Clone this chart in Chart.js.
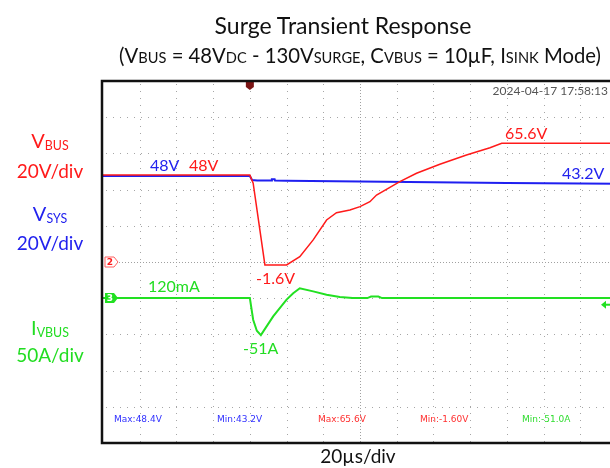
<!DOCTYPE html>
<html>
<head>
<meta charset="utf-8">
<script src="https://cdn.jsdelivr.net/npm/chart.js@4.4.1/dist/chart.umd.min.js"></script>
<style>
  html, body { margin: 0; padding: 0; width: 610px; height: 468px; overflow: hidden; background: #fff; }
  #scope { position: absolute; left: 0; top: 0; width: 640px; height: 468px; }
  .t { position: absolute; white-space: nowrap; font-family: Lato, "Open Sans", sans-serif; line-height: 1; }
  .c { width: 100px; text-align: center; left: 0; }
  .sc { font-size: 0.72em; }
  .sub { font-size: 0.62em; position: relative; top: 2px; }
  .meas { position: absolute; white-space: nowrap; font-family: "DejaVu Sans", sans-serif; font-size: 9px; line-height: 1; }
  .red { color: #ff1a1a; }
  .blue { color: #2222ee; }
  .green { color: #22dd22; }
</style>
</head>
<body>
<div id="scope"><canvas id="scope-chart"></canvas></div>

<div class="t" id="title" style="font-size:23px; top:14px; left:0; width:686px; text-align:center; color:#111;">Surge Transient Response</div>
<div class="t" id="subtitle" style="font-size:20.3px; top:45px; left:0; width:720px; text-align:center; color:#111;">(V<span class="sc">BUS</span> = 48V<span class="sc">DC</span> - 130V<span class="sc">SURGE</span>, C<span class="sc">VBUS</span> = 10µF, I<span class="sc">SINK</span> Mode)</div>

<div class="t c red" style="font-size:20px; top:130px;">V<span class="sub">BUS</span></div>
<div class="t c red" style="font-size:19px; top:161px;">20V/div</div>
<div class="t c blue" style="font-size:20px; top:203px;">V<span class="sub">SYS</span></div>
<div class="t c blue" style="font-size:19px; top:233px;">20V/div</div>
<div class="t c green" style="font-size:20px; top:317px;">I<span class="sub">VBUS</span></div>
<div class="t c green" style="font-size:19px; top:345px;">50A/div</div>

<div class="t blue" style="font-size:16px; left:150px; top:157px;">48V</div>
<div class="t red" style="font-size:16px; left:189px; top:157px;">48V</div>
<div class="t red" style="font-size:16px; left:505px; top:125px;">65.6V</div>
<div class="t blue" style="font-size:16px; left:562px; top:165px;">43.2V</div>
<div class="t red" style="font-size:16px; left:256px; top:270px;">-1.6V</div>
<div class="t green" style="font-size:16px; left:148px; top:278px;">120mA</div>
<div class="t green" style="font-size:16px; left:243px; top:340px;">-51A</div>

<div class="t" style="font-size:12px; right:2px; top:85px; color:#555;">2024-04-17 17:58:13</div>

<div class="meas" style="left:114px; top:415px; color:#3030ff;">Max:48.4V</div>
<div class="meas" style="left:217px; top:415px; color:#3030ff;">Min:43.2V</div>
<div class="meas" style="left:318px; top:415px; color:#ff3030;">Max:65.6V</div>
<div class="meas" style="left:420px; top:415px; color:#ff3030;">Min:-1.60V</div>
<div class="meas" style="left:522px; top:415px; color:#30dd30;">Min:-51.0A</div>

<div class="t" style="font-size:19px; left:258px; top:446px; width:200px; text-align:center; color:#111;">20µs/div</div>

<script>
// time base: 20 us/div, trigger at t = 0
const timeMin = -80;
const timeMax = 200;
const voltsPerDiv = 20;
const ampsPerDiv = 50;

// VBUS (ch2), volts
const vbusTime  = [-80, 0, 1.8, 8.2, 20, 27.2, 34.5, 41.8, 47.2, 54.5, 60, 65.4, 69, 81.7, 90.8, 103.5, 118, 130.8, 137.2, 200];
const vbusVolts = [48, 48, 43.5, -1.6, -1.6, 2.9, 12.2, 23.2, 27.2, 28.7, 30.6, 33.3, 37.0, 44.4, 49.0, 54.0, 59.1, 63.1, 65.6, 65.6];

// VSYS (ch1), volts
const vsysTime  = [-80, 0, 1.2, 4, 11.8, 12, 13.5, 13.7, 20, 60, 100, 140, 200];
const vsysVolts = [47.5, 47.5, 45.3, 45.0, 45.0, 45.7, 45.7, 45.0, 44.9, 44.5, 44.1, 43.6, 43.2];

// IVBUS (ch3), amps
const ivbusTime = [-80, 0, 1.8, 3.8, 6, 12.7, 20, 23.6, 27.2, 34.5, 41.8, 49, 56, 64, 66, 70, 72, 200];
const ivbusAmps = [0.12, 0.12, -29.7, -45, -51, -25.1, -2, 6.8, 13.8, 9.4, 4.8, 1.7, 0.12, 0.12, 2.2, 2.2, 0.12, 0.12];

const RED = '#ff1a1a';
const BLUE = '#1f1ff0';
const GREEN = '#22e022';

function toPoints(xs, ys) {
    return xs.map((x, i) => ({ x: x, y: ys[i] }));
}

// dotted graticule, frame and channel markers
const scopeDecor = {
    id: 'scopeDecor',
    beforeDatasetsDraw(chart) {
        const { ctx, chartArea: a, scales } = chart;
        ctx.save();
        ctx.strokeStyle = '#a6a6a6';
        ctx.lineWidth = 1;
        ctx.setLineDash([1, 6]);
        ctx.beginPath();
        for (let t = timeMin + 20; t < timeMax; t += 20) {
            if (t === 60) continue;
            const x = Math.round(scales.x.getPixelForValue(t)) + 0.5;
            ctx.moveTo(x, a.top + 3);
            ctx.lineTo(x, a.bottom);
        }
        for (let v = -80; v <= 80; v += voltsPerDiv) {
            if (v === 0) continue;
            const y = Math.round(scales.yV.getPixelForValue(v)) + 0.5;
            ctx.moveTo(a.left + 3, y);
            ctx.lineTo(a.right, y);
        }
        ctx.stroke();

        // center lines, finer dots
        ctx.strokeStyle = '#a0a0a0';
        ctx.setLineDash([1, 2]);
        ctx.beginPath();
        const y0 = Math.round(scales.yV.getPixelForValue(0)) + 0.5;
        ctx.moveTo(a.left + 16, y0);
        ctx.lineTo(a.right, y0);
        const xc = Math.round(scales.x.getPixelForValue(60)) + 0.5;
        ctx.moveTo(xc, a.top);
        ctx.lineTo(xc, a.bottom);
        ctx.stroke();
        ctx.restore();
    },
    afterDatasetsDraw(chart) {
        const { ctx, chartArea: a, scales } = chart;
        ctx.save();

        // ch2 ground tag (outlined)
        const y2 = scales.yV.getPixelForValue(0);
        ctx.beginPath();
        ctx.moveTo(a.left + 2, y2 - 5);
        ctx.lineTo(a.left + 11, y2 - 5);
        ctx.lineTo(a.left + 15, y2);
        ctx.lineTo(a.left + 11, y2 + 5);
        ctx.lineTo(a.left + 2, y2 + 5);
        ctx.closePath();
        ctx.fillStyle = '#fff';
        ctx.fill();
        ctx.strokeStyle = '#ff6060';
        ctx.lineWidth = 1;
        ctx.stroke();
        ctx.fillStyle = RED;
        ctx.font = 'bold 9px "DejaVu Sans"';
        ctx.textAlign = 'center';
        ctx.textBaseline = 'middle';
        ctx.fillText('2', a.left + 7, y2 + 0.5);

        // ch3 ground tag (filled)
        const y3 = scales.yI.getPixelForValue(0.12);
        ctx.beginPath();
        ctx.moveTo(a.left + 2, y3 - 5);
        ctx.lineTo(a.left + 11, y3 - 5);
        ctx.lineTo(a.left + 15, y3);
        ctx.lineTo(a.left + 11, y3 + 5);
        ctx.lineTo(a.left + 2, y3 + 5);
        ctx.closePath();
        ctx.fillStyle = GREEN;
        ctx.fill();
        ctx.fillStyle = '#fff';
        ctx.fillText('3', a.left + 7, y3 + 0.5);

        // trigger position marker
        const xt = scales.x.getPixelForValue(0);
        ctx.beginPath();
        ctx.moveTo(xt - 4, a.top + 1);
        ctx.lineTo(xt + 4, a.top + 1);
        ctx.lineTo(xt + 4, a.top + 6);
        ctx.lineTo(xt, a.top + 9);
        ctx.lineTo(xt - 4, a.top + 6);
        ctx.closePath();
        ctx.fillStyle = '#7a1414';
        ctx.fill();

        // trigger level arrow on ch3
        const yl = scales.yI.getPixelForValue(-9);
        ctx.beginPath();
        ctx.moveTo(601, yl);
        ctx.lineTo(606, yl - 4);
        ctx.lineTo(606, yl + 4);
        ctx.closePath();
        ctx.fillStyle = GREEN;
        ctx.fill();
        ctx.fillRect(604, yl - 1, 8, 2);

        // screen frame
        ctx.strokeStyle = '#111';
        ctx.lineWidth = 2.5;
        ctx.strokeRect(a.left - 1, a.top, a.right - a.left + 2, a.bottom - a.top);
        ctx.restore();
    }
};

const lineStyle = { pointRadius: 0, tension: 0, fill: false };

// first dataset is painted on top
new Chart(document.getElementById('scope-chart').getContext('2d'), {
    type: 'line',
    data: {
        datasets: [
            Object.assign({ label: 'VBUS', data: toPoints(vbusTime, vbusVolts), yAxisID: 'yV', borderColor: RED, borderWidth: 1.5 }, lineStyle),
            Object.assign({ label: 'VSYS', data: toPoints(vsysTime, vsysVolts), yAxisID: 'yV', borderColor: BLUE, borderWidth: 2 }, lineStyle),
            Object.assign({ label: 'IVBUS', data: toPoints(ivbusTime, ivbusAmps), yAxisID: 'yI', borderColor: GREEN, borderWidth: 2 }, lineStyle)
        ]
    },
    options: {
        responsive: true,
        maintainAspectRatio: false,
        animation: false,
        layout: { padding: { left: 103, top: 81, right: 23, bottom: 25 } },
        plugins: { legend: { display: false }, tooltip: { enabled: false } },
        scales: {
            x: {
                type: 'linear', min: timeMin, max: timeMax,
                ticks: { display: false, stepSize: 20 },
                grid: { display: false, drawTicks: false },
                border: { display: false }
            },
            yV: {
                position: 'left', min: -5 * voltsPerDiv, max: 5 * voltsPerDiv,
                ticks: { display: false, stepSize: voltsPerDiv },
                grid: { display: false, drawTicks: false },
                border: { display: false }
            },
            yI: {
                display: false, min: -4 * ampsPerDiv, max: 6 * ampsPerDiv
            }
        }
    },
    plugins: [scopeDecor]
});
</script>
</body>
</html>
